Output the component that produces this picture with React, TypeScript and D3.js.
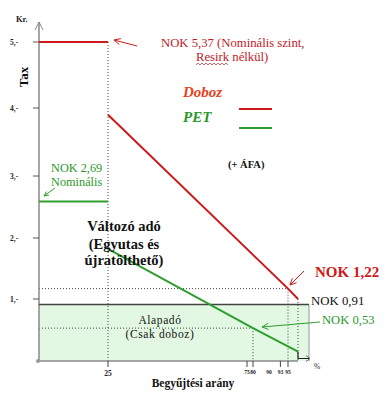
import React from "react";
import * as d3 from "d3";

// chart values (share of collection in %, tax in NOK)
const yTicks = [1, 2, 3, 4, 5];
const yTickLabels = ["1,-", "2,-", "3,-", "4,-", "5,-"];
const xTickValues = [25, 75, 80, 93, 95];
const xTickLabels = [25, 75, 80, 90, 93, 95];

const dobozNominal: [number, number][] = [[0, 5.0], [25, 5.0]];
const dobozVariable: [number, number][] = [[25, 3.9], [95, 1.17], [100, 1.0]];
const petNominal: [number, number][] = [[0, 2.59], [25, 2.59]];
const petVariable: [number, number][] = [[25, 1.82], [80, 0.53], [100, 0.15]];
const petTail: [number, number][] = [[100, 0.15], [100, 0.04], [105, 0.04]];
const baseTax = 0.91;

// dotted guide lines [x1, y1, x2, y2]
const guides: [number, number, number, number][] = [
  [25, 5.0, 25, 0],
  [0, 1.17, 95, 1.17],
  [95, 1.17, 95, 0],
  [100, 1.0, 100, 0],
  [0, 0.53, 80, 0.53],
  [80, 0.53, 80, 0],
];

const W = 387;
const H = 400;
const font = "'Liberation Serif', 'Times New Roman', serif";
const red = "#cc1a1a";
const green = "#2e9e2e";
const greenText = "#2a982a";

// the drawing is not to scale, so the scales are piecewise
const x = d3
  .scaleLinear()
  .domain([0, 25, 75, 80, 90, 95, 100, 105])
  .range([39, 108, 247, 253, 269, 288, 298, 309]);
const y = d3
  .scaleLinear()
  .domain([0, 1, 2, 3, 4, 5])
  .range([361, 299, 238, 176, 108, 42]);

const line = d3
  .line<[number, number]>()
  .x((d) => x(d[0]))
  .y((d) => y(d[1]));

function Arrow({ x1, y1, x2, y2, color, size = 7 }: any) {
  const a = Math.atan2(y2 - y1, x2 - x1);
  const h1 = [x2 - size * Math.cos(a - 0.45), y2 - size * Math.sin(a - 0.45)];
  const h2 = [x2 - size * Math.cos(a + 0.45), y2 - size * Math.sin(a + 0.45)];
  return (
    <g stroke={color} fill="none" strokeWidth={1}>
      <line x1={x1} y1={y1} x2={x2} y2={y2} />
      <polyline points={`${h1.join(",")} ${x2},${y2} ${h2.join(",")}`} />
    </g>
  );
}

export default function App() {
  // wavy spell-check underline under "Resirk"
  const wave = d3.range(0, 17).map((i) => [196 + i * 2, i % 2 ? 63 : 65] as [number, number]);

  return (
    <svg
      width={W}
      height={H}
      style={{ position: "absolute", left: 0, top: 0, background: "#fff" }}
      fontFamily={font}
    >
      {/* base tax area */}
      <rect
        x={x(0)}
        y={y(baseTax)}
        width={x(105) - x(0)}
        height={y(0) - y(baseTax)}
        fill="#e3f8e3"
      />
      <line x1={x(105)} x2={x(105)} y1={y(baseTax)} y2={y(0)} stroke="#999" strokeWidth={1} />

      {/* guides */}
      {guides.map((g, i) => (
        <line
          key={i}
          x1={x(g[0])}
          y1={y(g[1])}
          x2={x(g[2])}
          y2={y(g[3])}
          stroke="#444"
          strokeWidth={1}
          strokeDasharray="1,2"
        />
      ))}

      {/* axes */}
      <line x1={x(0)} x2={x(0)} y1={y(0)} y2={22} stroke="#888" strokeWidth={1.5} />
      <polyline points={`35,30 39,22 43,30`} fill="none" stroke="#888" strokeWidth={1} />
      <line x1={x(0)} x2={x(100)} y1={y(0)} y2={y(0)} stroke="#888" strokeWidth={1.5} />
      <circle cx={x(0) - 1} cy={y(0)} r={2} fill="#999" />
      {yTicks.map((t, i) => (
        <g key={t}>
          <line x1={33} x2={x(0)} y1={y(t)} y2={y(t)} stroke="#555" strokeWidth={1} />
          <text x={10} y={y(t) + 2.5} fontSize={7.5} fontWeight="bold" fill="#222">
            {yTickLabels[i]}
          </text>
        </g>
      ))}
      {xTickValues.map((t) => (
        <line key={t} x1={x(t)} x2={x(t)} y1={y(0)} y2={y(0) + 6} stroke="#444" strokeWidth={1} />
      ))}
      {xTickLabels.map((t) => (
        <text
          key={t}
          x={x(t)}
          y={t === 25 ? 376 : 374}
          fontSize={t === 25 ? 7.5 : 5.5}
          fontWeight="bold"
          textAnchor="middle"
          fill="#222"
        >
          {t}
        </text>
      ))}
      <text x={314} y={369} fontSize={7.5} fill="#222">%</text>
      <text x={16} y={22} fontSize={8.5} fontWeight="bold" fill="#222">Kr.</text>
      <text
        transform="translate(28,77) rotate(-90)"
        fontSize={13}
        fontWeight="bold"
        textAnchor="middle"
        fill="#111"
      >
        Tax
      </text>
      <text x={193} y={387} fontSize={11.5} fontWeight="bold" textAnchor="middle" fill="#111">
        Begyűjtési arány
      </text>

      {/* base line */}
      <line x1={x(0)} x2={x(105)} y1={y(baseTax)} y2={y(baseTax)} stroke="#444" strokeWidth={1.5} />

      {/* series */}
      <path d={line(dobozNominal)!} fill="none" stroke={red} strokeWidth={2} />
      <path d={line(dobozVariable)!} fill="none" stroke={red} strokeWidth={2} />
      <path d={line(petNominal)!} fill="none" stroke={green} strokeWidth={2} />
      <path d={line(petVariable)!} fill="none" stroke={green} strokeWidth={2} />
      <path d={line(petTail)!} fill="none" stroke="#222" strokeWidth={1.2} />
      <polyline
        points={`${x(105) - 3},${y(0.04) - 3} ${x(105) + 1},${y(0.04)} ${x(105) - 3},${y(0.04) + 3}`}
        fill="none"
        stroke="#666"
        strokeWidth={1}
      />

      {/* legend */}
      <text x={183} y={97} fontSize={15} fontWeight="bold" fontStyle="italic" fill="#e8401a">
        Doboz
      </text>
      <text x={183} y={122} fontSize={15} fontWeight="bold" fontStyle="italic" fill={greenText}>
        PET
      </text>
      <line x1={239} x2={272} y1={109} y2={109} stroke={red} strokeWidth={2} />
      <line x1={239} x2={272} y1={128} y2={128} stroke={green} strokeWidth={2} />
      <text x={228} y={168} fontSize={10.5} fontWeight="bold" fill="#111">(+ ÁFA)</text>

      {/* annotations */}
      <text x={161} y={47} fontSize={12.7} fill="#c0202a">NOK 5,37 (Nominális szint,</text>
      <text x={196} y={61} fontSize={12.7} fill="#c0202a">Resirk nélkül)</text>
      <path d={d3.line()(wave)!} fill="none" stroke="#d04040" strokeWidth={0.8} />
      <Arrow x1={137} y1={46} x2={114} y2={40} color={red} />

      <text x={51} y={172} fontSize={12.3} fill={greenText}>NOK 2,69</text>
      <text x={51} y={186} fontSize={12.3} fill={greenText}>Nominális</text>
      <Arrow x1={55} y1={188} x2={44} y2={196} color={green} size={5} />

      <g fontSize={14.5} fontWeight="bold" textAnchor="middle" fill="#111">
        <text x={124} y={231}>Változó adó</text>
        <text x={124} y={249}>(Egyutas és</text>
        <text x={124} y={265}>újratölthető)</text>
      </g>

      <text x={315} y={277} fontSize={15} fontWeight="bold" fill="#d01818">NOK 1,22</text>
      <Arrow x1={304} y1={271} x2={290} y2={285} color={red} />
      <text x={311} y={305} fontSize={12.8} fill="#111">NOK 0,91</text>
      <text x={322} y={324} fontSize={12.6} fill={greenText}>NOK 0,53</text>
      <Arrow x1={320} y1={322} x2={262} y2={327} color={green} />

      <g fontSize={11.5} textAnchor="middle" fill="#111" letterSpacing={0.6}>
        <text x={160} y={324}>Alapadó</text>
        <text x={160} y={338}>(Csak doboz)</text>
      </g>
    </svg>
  );
}
